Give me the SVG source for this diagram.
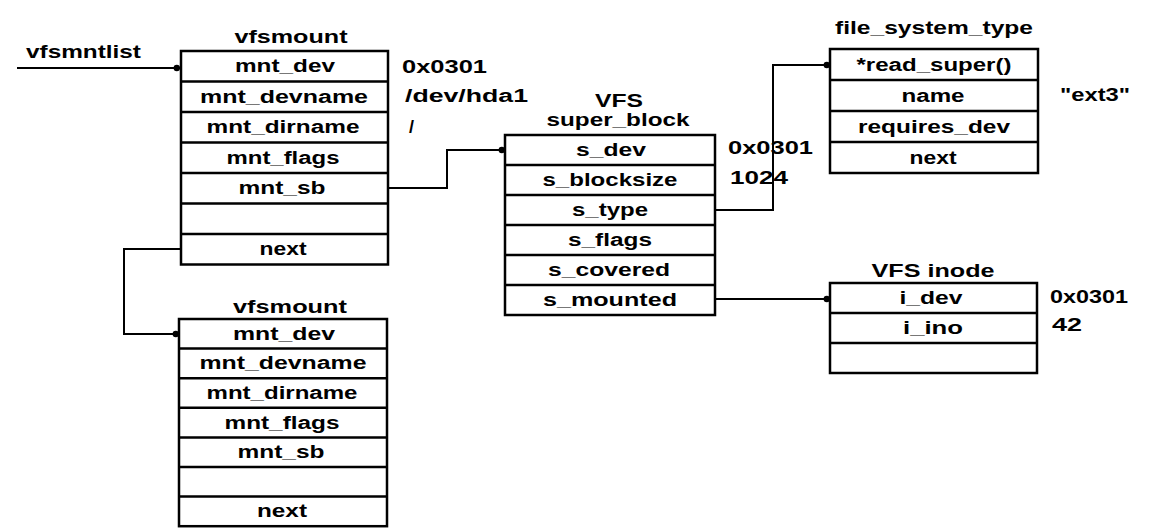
<svg xmlns="http://www.w3.org/2000/svg" width="1152" height="530" viewBox="0 0 1152 530">
<defs>
<style>
text{font-family:"Liberation Sans",Arial,sans-serif;font-weight:bold;font-size:18px;fill:#000}
.c{text-anchor:middle}
.s{text-anchor:start}
.box{fill:#fff;stroke:#000;stroke-width:2.5}
.div{stroke:#000;stroke-width:2.5}
.conn{fill:none;stroke:#000;stroke-width:2}
</style>
<marker id="dot" viewBox="0 0 10 10" refX="9" refY="5" markerWidth="8" markerHeight="8" markerUnits="userSpaceOnUse" orient="auto">
<circle cx="5" cy="5" r="4" fill="#000"/>
</marker>
</defs>
<rect width="1152" height="530" fill="#fff"/>

<g id="connectors">
<path class="conn" d="M17,68 H180" marker-end="url(#dot)"/>
<path class="conn" d="M388,188 H447 V150 H505" marker-end="url(#dot)"/>
<path class="conn" d="M181,249 H124 V334 H179" marker-end="url(#dot)"/>
<path class="conn" d="M715,210 H773 V65 H830" marker-end="url(#dot)"/>
<path class="conn" d="M715,299 H830" marker-end="url(#dot)"/>
</g>

<g id="vfsmntlist">
<text class="s" x="26" y="58" textLength="115" lengthAdjust="spacingAndGlyphs">vfsmntlist</text>
</g>

<g id="vfsmount1">
<text class="c" x="291" y="43" textLength="113" lengthAdjust="spacingAndGlyphs">vfsmount</text>
<rect class="box" x="181" y="51" width="207" height="213.5"/>
<path class="div" d="M181,81.5H388M181,112H388M181,142.5H388M181,173H388M181,203.5H388M181,234H388"/>
<text class="c" x="285" y="72" textLength="100" lengthAdjust="spacingAndGlyphs">mnt_dev</text>
<text class="c" x="284" y="103" textLength="168" lengthAdjust="spacingAndGlyphs">mnt_devname</text>
<text class="c" x="283" y="133" textLength="153" lengthAdjust="spacingAndGlyphs">mnt_dirname</text>
<text class="c" x="283" y="164" textLength="113" lengthAdjust="spacingAndGlyphs">mnt_flags</text>
<text class="c" x="282" y="194" textLength="87" lengthAdjust="spacingAndGlyphs">mnt_sb</text>
<text class="c" x="283" y="255" textLength="47" lengthAdjust="spacingAndGlyphs">next</text>
<text class="s" x="402" y="73" textLength="85" lengthAdjust="spacingAndGlyphs">0x0301</text>
<text class="s" x="405" y="102" textLength="123" lengthAdjust="spacingAndGlyphs">/dev/hda1</text>
<text class="s" x="409" y="133">/</text>
</g>

<g id="super_block">
<text class="c" x="619" y="107" textLength="48" lengthAdjust="spacingAndGlyphs">VFS</text>
<text class="c" x="618" y="126" textLength="143" lengthAdjust="spacingAndGlyphs">super_block</text>
<rect class="box" x="505" y="135" width="210" height="180"/>
<path class="div" d="M505,165H715M505,195H715M505,225H715M505,255H715M505,285H715"/>
<text class="c" x="611" y="156" textLength="70" lengthAdjust="spacingAndGlyphs">s_dev</text>
<text class="c" x="610" y="186" textLength="135" lengthAdjust="spacingAndGlyphs">s_blocksize</text>
<text class="c" x="610" y="216" textLength="76" lengthAdjust="spacingAndGlyphs">s_type</text>
<text class="c" x="610" y="246" textLength="84" lengthAdjust="spacingAndGlyphs">s_flags</text>
<text class="c" x="609" y="276" textLength="122" lengthAdjust="spacingAndGlyphs">s_covered</text>
<text class="c" x="610" y="306" textLength="134" lengthAdjust="spacingAndGlyphs">s_mounted</text>
<text class="s" x="728" y="154" textLength="85" lengthAdjust="spacingAndGlyphs">0x0301</text>
<text class="s" x="730" y="184" textLength="58" lengthAdjust="spacingAndGlyphs">1024</text>
</g>

<g id="file_system_type">
<text class="c" x="934" y="34" textLength="198" lengthAdjust="spacingAndGlyphs">file_system_type</text>
<rect class="box" x="830" y="49" width="208" height="124"/>
<path class="div" d="M830,80H1038M830,111H1038M830,142H1038"/>
<text class="c" x="934" y="70.5" textLength="155" lengthAdjust="spacingAndGlyphs">*read_super()</text>
<text class="c" x="933" y="101.5" textLength="63" lengthAdjust="spacingAndGlyphs">name</text>
<text class="c" x="934" y="132.5" textLength="152" lengthAdjust="spacingAndGlyphs">requires_dev</text>
<text class="c" x="933" y="163.5" textLength="47" lengthAdjust="spacingAndGlyphs">next</text>
<text class="s" x="1060" y="101" textLength="70" lengthAdjust="spacingAndGlyphs">"ext3"</text>
</g>

<g id="vfs_inode">
<text class="c" x="933" y="277" textLength="123" lengthAdjust="spacingAndGlyphs">VFS inode</text>
<rect class="box" x="830" y="283" width="207" height="90"/>
<path class="div" d="M830,313H1037M830,343H1037"/>
<text class="c" x="931" y="304" textLength="63" lengthAdjust="spacingAndGlyphs">i_dev</text>
<text class="c" x="933" y="334" textLength="60" lengthAdjust="spacingAndGlyphs">i_ino</text>
<text class="s" x="1050" y="303" textLength="78" lengthAdjust="spacingAndGlyphs">0x0301</text>
<text class="s" x="1052" y="331" textLength="30" lengthAdjust="spacingAndGlyphs">42</text>
</g>

<g id="vfsmount2">
<text class="c" x="290" y="313" textLength="114" lengthAdjust="spacingAndGlyphs">vfsmount</text>
<rect class="box" x="179" y="319" width="208" height="207.2"/>
<path class="div" d="M179,348.6H387M179,378.2H387M179,407.8H387M179,437.4H387M179,467H387M179,496.6H387"/>
<text class="c" x="284" y="340" textLength="102" lengthAdjust="spacingAndGlyphs">mnt_dev</text>
<text class="c" x="283" y="369" textLength="167" lengthAdjust="spacingAndGlyphs">mnt_devname</text>
<text class="c" x="282" y="399" textLength="151" lengthAdjust="spacingAndGlyphs">mnt_dirname</text>
<text class="c" x="282" y="429" textLength="115" lengthAdjust="spacingAndGlyphs">mnt_flags</text>
<text class="c" x="281" y="458" textLength="87" lengthAdjust="spacingAndGlyphs">mnt_sb</text>
<text class="c" x="282" y="517" textLength="50" lengthAdjust="spacingAndGlyphs">next</text>
</g>
</svg>
